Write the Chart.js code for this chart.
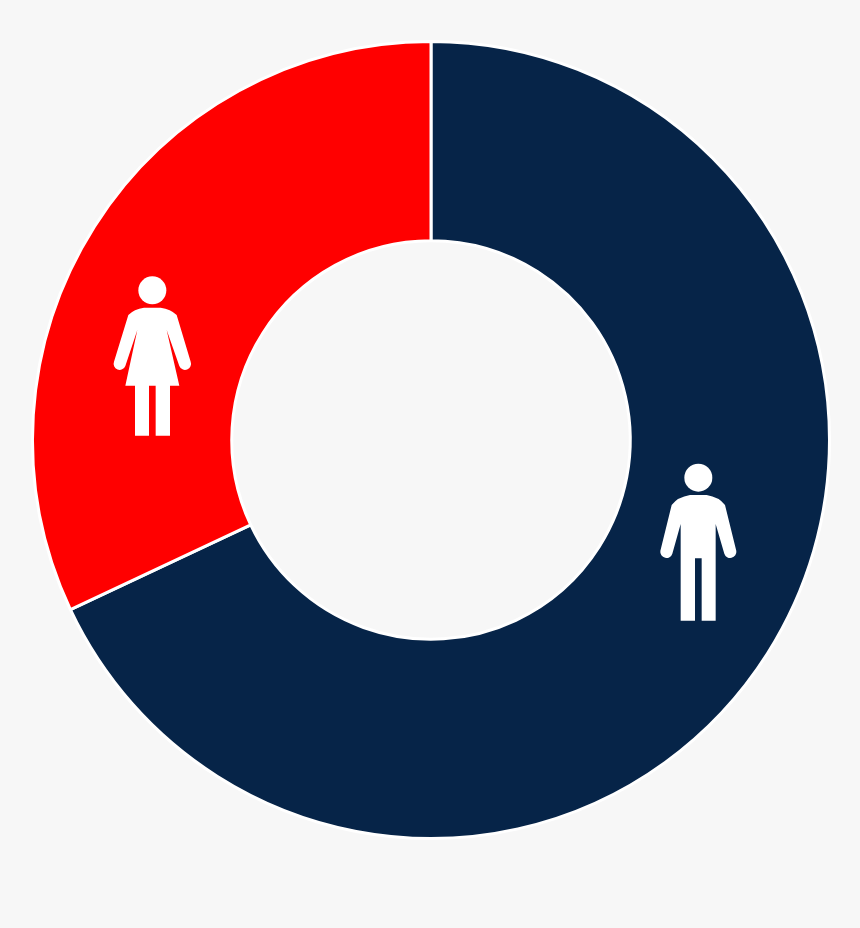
<!DOCTYPE html>
<html>
<head>
<meta charset="utf-8">
<title>Male / female share</title>
<script src="https://cdn.jsdelivr.net/npm/chart.js@4"></script>
<style>
  html, body { margin: 0; padding: 0; background: #f7f7f7; }
  canvas { display: block; }
</style>
</head>
<body>
<canvas id="myChart" width="860" height="928"></canvas>
<script>
var categories = ["Male", "Female"];
var shares = [68, 32];
var sliceColors = ["#062448", "#ff0000"];

// pictogram outlines, traced at 3x from the reference
var malePath = new Path2D("M135 120 L185 120 Q222 126 240 150 L274 288 A18.5 18.5 0 0 1 238 296 L212 207 L212 497 L170 497 L170 310 L150 310 L150 497 L107 497 L107 207 L82 296 A18.5 18.5 0 0 1 46 288 L80 150 Q98 126 135 120 Z");
var femalePath = new Path2D("M132 128 L182 128 Q212 132 230 150 L272 290 A18 18 0 0 1 238 303 L200 195 L238 362 L210 362 L210 512 L167 512 L167 362 L147 362 L147 512 L105 512 L105 362 L76 362 L112 195 L76 303 A18 18 0 0 1 42 290 L85 150 Q102 132 132 128 Z");

var pictograms = {
  id: "pictograms",
  afterDatasetsDraw: function(chart) {
    var arcs = chart.getDatasetMeta(0).data;
    var ctx = chart.ctx;
    function draw(path, dx, dy, headX, headY, headR) {
      ctx.save();
      ctx.translate(arcs[0].x + dx, arcs[0].y + dy);
      ctx.scale(1 / 3, 1 / 3);
      ctx.fillStyle = "#fff";
      ctx.fill(path);
      ctx.beginPath();
      ctx.arc(headX, headY, headR, 0, Math.PI * 2);
      ctx.fill();
      ctx.restore();
    }
    draw(malePath, 214, 15, 160, 68, 42);
    draw(femalePath, -331, -175, 157, 76, 42);
  }
};

var ctx = document.getElementById("myChart");
var myChart = new Chart(ctx, {
  type: "doughnut",
  data: {
    labels: categories,
    datasets: [{
      data: shares,
      backgroundColor: sliceColors,
      borderColor: "#fff",
      borderWidth: 3
    }]
  },
  options: {
    responsive: false,
    animation: false,
    cutout: "50%",
    layout: {
      padding: { left: 31, right: 29, top: 40, bottom: 88 }
    },
    plugins: {
      legend: { display: false },
      tooltip: { enabled: false }
    }
  },
  plugins: [pictograms]
});
</script>
</body>
</html>
